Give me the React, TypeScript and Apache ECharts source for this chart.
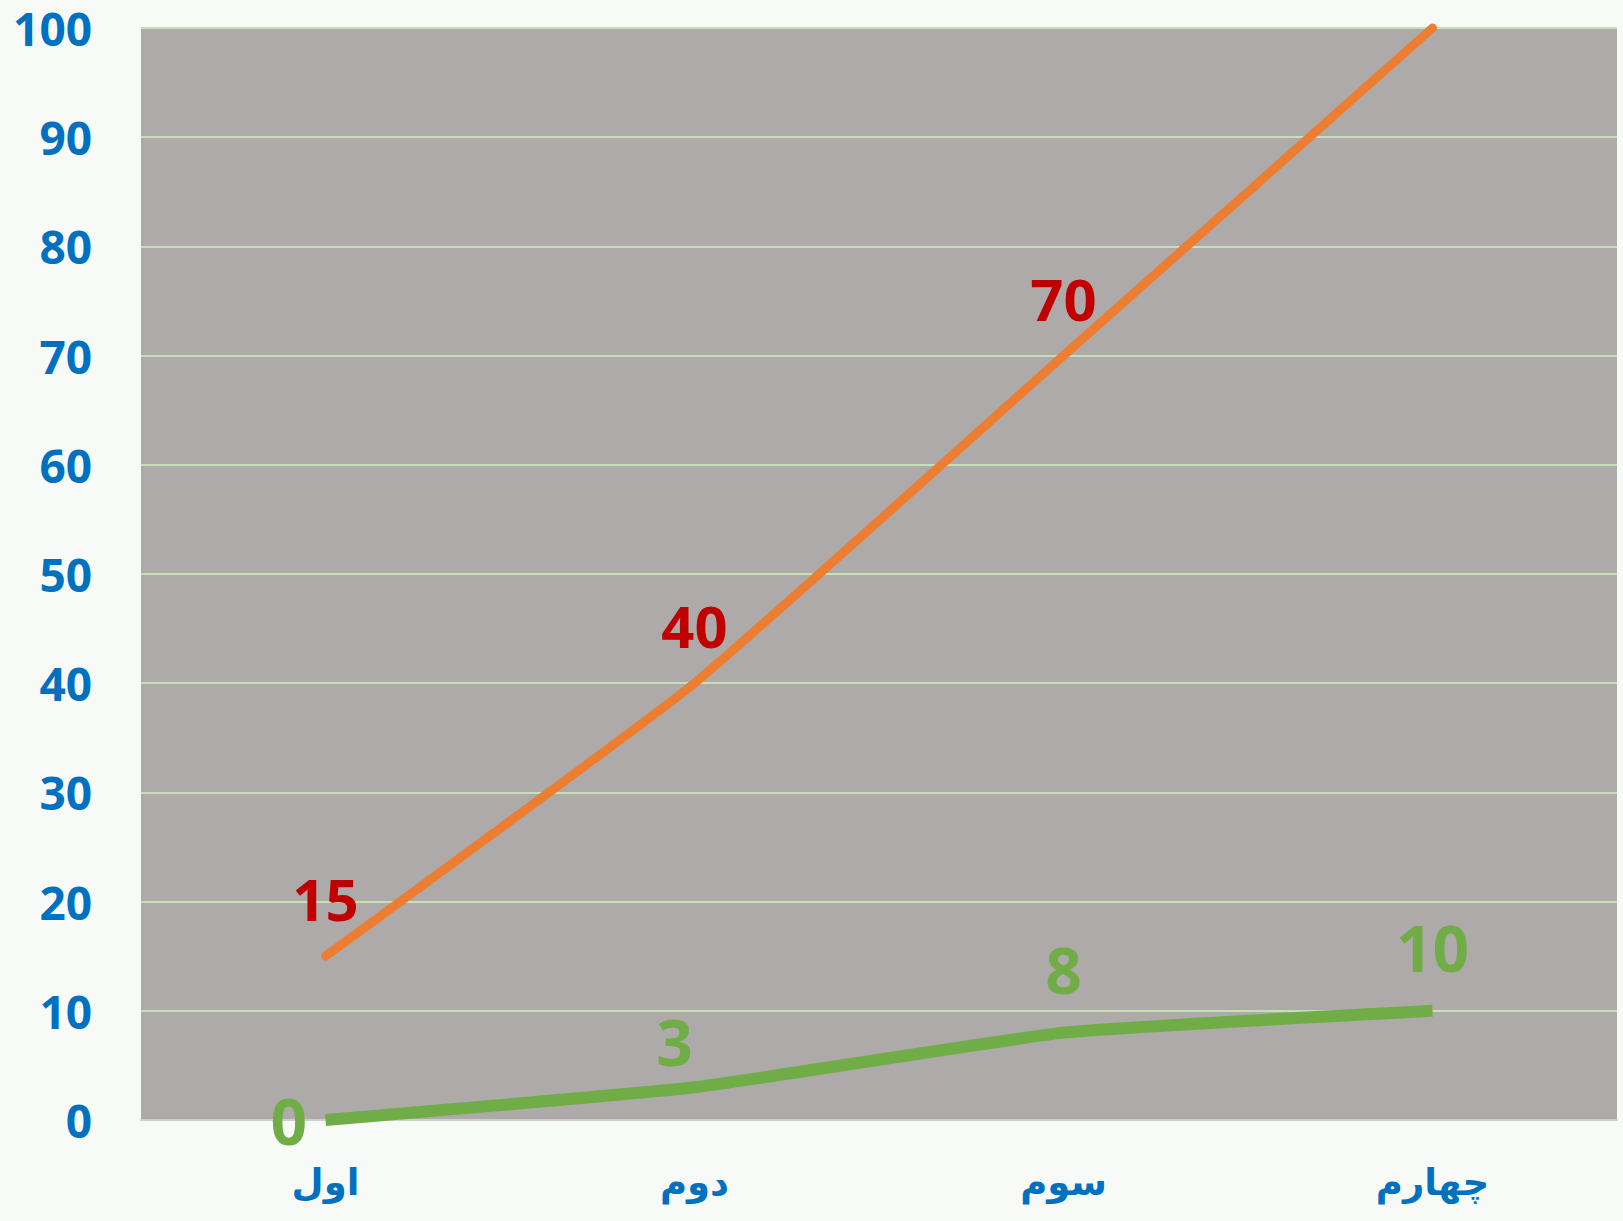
import React, { useEffect, useRef } from "react";
import * as echarts from "echarts";

const categories = ["اول", "دوم", "سوم", "چهارم"];
const orangeValues = [15, 40, 70, 100];
const greenValues = [0, 3, 8, 10];
const yMin = 0;
const yMax = 100;
const yInterval = 10;

// label placement styles (not data)
const orangeLabelStyles: any[] = [{}, {}, {}, { show: false }];
const greenLabelStyles: any[] = [
  { position: "left", distance: 18 },
  { position: "top", distance: 13, offset: [-20, 0] },
  {},
  {},
];

export default function App() {
  const ref = useRef<HTMLDivElement>(null);
  useEffect(() => {
    document.body.style.margin = "0";
    document.body.style.background = "#F8FAF8";
    if (!ref.current) return;
    const chart = echarts.init(ref.current, null, { renderer: "svg" });
    const digitFont = "'Open Sans', 'Lato', sans-serif";
    chart.setOption({
      animation: false,
      backgroundColor: "#F8FAF8",
      grid: {
        left: 141,
        right: 6,
        top: 28,
        bottom: 101,
        show: true,
        backgroundColor: "#AEAAAA",
        borderWidth: 0,
      },
      xAxis: {
        type: "category",
        data: categories,
        boundaryGap: true,
        axisLine: { show: true, lineStyle: { color: "#D0CECE", width: 2 } },
        axisTick: { show: false },
        axisLabel: {
          color: "#0070C0",
          fontFamily: "'DejaVu Sans', sans-serif",
          fontWeight: "bold",
          fontSize: 37,
          margin: 44,
        },
      },
      yAxis: {
        type: "value",
        min: yMin,
        max: yMax,
        interval: yInterval,
        axisLine: { show: false },
        axisTick: { show: false },
        splitLine: { show: true, lineStyle: { color: "#C5E0B4", width: 2 } },
        axisLabel: {
          color: "#0070C0",
          fontFamily: digitFont,
          fontWeight: "bold",
          fontSize: 46,
          lineHeight: 36,
          margin: 49,
        },
      },
      series: [
        {
          type: "line",
          data: orangeValues.map((v, i) => ({ value: v, label: orangeLabelStyles[i] })),
          smooth: 0.12,
          symbol: "circle",
          symbolSize: 1,
          itemStyle: { color: "rgba(0,0,0,0)" },
          lineStyle: { color: "#ED7D31", width: 9, cap: "round" },
          clip: false,
          label: {
            show: true,
            position: "top",
            distance: 28,
            color: "#C00000",
            fontFamily: digitFont,
            fontWeight: "bold",
            fontSize: 58,
          },
          z: 3,
        },
        {
          type: "line",
          data: greenValues.map((v, i) => ({ value: v, label: greenLabelStyles[i] })),
          smooth: 0.12,
          symbol: "circle",
          symbolSize: 1,
          itemStyle: { color: "rgba(0,0,0,0)" },
          lineStyle: { color: "#70AD47", width: 12, cap: "butt" },
          clip: false,
          label: {
            show: true,
            position: "top",
            distance: 31,
            color: "#70AD47",
            fontFamily: digitFont,
            fontWeight: "bold",
            fontSize: 64,
          },
          z: 4,
        },
      ],
    });
    return () => chart.dispose();
  }, []);
  return <div ref={ref} style={{ width: 1623, height: 1221 }} />;
}
